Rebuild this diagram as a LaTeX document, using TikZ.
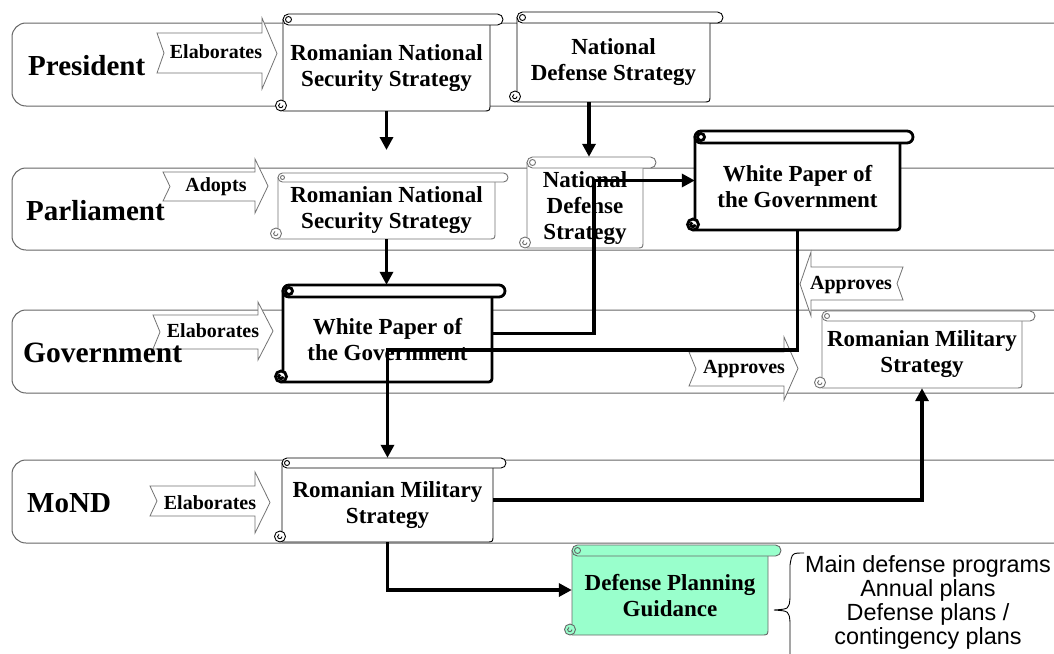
\documentclass[tikz,border=0pt]{standalone}
\usepackage{fontspec}
\setmainfont{Liberation Serif}
\newfontfamily\arialfont{Liberation Sans}
\usetikzlibrary{arrows.meta,fit}
\definecolor{mint}{HTML}{99FFCC}
% scroll: #1 name, #2 style, #3 L, #4 T, #5 R, #6 B, #7 roll height, #8 text
\newcommand{\scrl}[8]{%
  \path[#2] (#3,#4+#7/2) -- (#3,#6) -- (#5-7,#6) .. controls (#5,#6) .. (#5,#6-7) -- (#5,#4+#7/2) -- cycle;
  \path[#2, rounded corners=#7/2*1pt] (#3,#4) rectangle (#5+13,#4+#7);
  \path[#2, fill=none] (#3+#7/2,#4+#7/2) circle ({#7/2-2.5});
  \path[#2] (#3-2,#6-5.5) circle (5.5);
  \path[#2, fill=none] (#3,#6-5.5) arc[start angle=0, end angle=250, radius=2.2];
  \node[sbox, fit={(#3,#4) (#5,#6)}] (#1) {};
  \node[stext] (#1-t) at ({(#3+#5)/2},{(#4+#7+#6)/2}) {#8};
}
% right-pointing chevron: x0, xh, xtip, shaft top, shaft bottom, head top, head bottom
\newcommand{\chevR}[7]{%
  \path[chev] (#1,#4) -- (#2,#4) -- (#2,#6) -- (#3,{(#6+#7)/2}) -- (#2,#7) -- (#2,#5) -- (#1,#5) -- (#1+7,{(#4+#5)/2}) -- cycle;}
% left-pointing chevron: xright, xh, xtip, ...
\newcommand{\chevL}[7]{%
  \path[chev] (#1,#4) -- (#2,#4) -- (#2,#6) -- (#3,{(#6+#7)/2}) -- (#2,#7) -- (#2,#5) -- (#1,#5) -- (#1-6,{(#4+#5)/2}) -- cycle;}
\begin{document}
\begin{tikzpicture}[x=1pt,y=-1pt,
  lane/.style={draw=black!60, line width=1pt},
  chev/.style={draw=black!55, fill=white, line width=0.8pt},
  chevtext/.style={font=\fontsize{20}{22}\selectfont\bfseries, inner sep=0pt},
  lanetext/.style={font=\fontsize{29}{32}\selectfont\bfseries, anchor=west, inner sep=0pt},
  stext/.style={font=\fontsize{23}{26}\selectfont\bfseries, align=center, inner sep=0pt},
  sbox/.style={inner sep=0pt, draw=none},
  thinscroll/.style={draw=black, fill=white, line width=0.9pt},
  grayscroll/.style={draw=black!55, fill=white, line width=0.9pt},
  thickscroll/.style={draw=black, fill=white, line width=2.8pt},
  greenscroll/.style={draw=black!60, fill=mint, line width=0.9pt},
  conn/.style={line width=3.3pt, -{Triangle[length=13pt,width=13pt]}},
]
\useasboundingbox (0,0) rectangle (1054,653);
\fill[white] (0,0) rectangle (1054,653);
\clip (0,0) rectangle (1054,653);

% lanes
\draw[lane, rounded corners=14pt] (1070,23) -- (12,23) -- (12,106) -- (1070,106);
\draw[lane, rounded corners=14pt] (1070,168) -- (12,168) -- (12,250) -- (1070,250);
\draw[lane, rounded corners=14pt] (1070,310) -- (12,310) -- (12,393) -- (1070,393);
\draw[lane, rounded corners=14pt] (1070,460) -- (12,460) -- (12,543) -- (1070,543);

% chevrons
\chevR{157}{262}{277}{33}{73}{18}{89}
\chevR{163}{255}{268}{172}{201}{159}{213}
\chevR{153}{258}{273}{315}{349}{302}{360}
\chevR{150}{255}{270}{486}{516}{472}{533}
\chevL{903}{811}{800}{267}{300}{252}{316}
\chevR{689}{784}{798}{352}{386}{337}{400}

\node[chevtext] (tE1) at (216,52) {Elaborates};
\node[chevtext] (tA1) at (216,187) {Adopts};
\node[chevtext] (tE2) at (213,331) {Elaborates};
\node[chevtext] (tE3) at (210,503) {Elaborates};
\node[chevtext] (tAp1) at (851,285) {Approves};
\node[chevtext] (tAp2) at (744,369) {Approves};

% lane labels
\node[lanetext] (lPres) at (28,66) {President};
\node[lanetext] (lParl) at (26,211) {Parliament};
\node[lanetext, font=\fontsize{29.5}{32}\selectfont\bfseries] (lGov) at (23,353) {Government};
\node[lanetext] (lMoND) at (27,503) {MoND};

% scrolls
\scrl{prnss}{thinscroll}{283}{14}{490}{111}{11}{Romanian National\\Security Strategy}
\scrl{pnds}{thinscroll}{517}{12}{710}{102}{11}{National\\Defense Strategy}
\scrl{parrnss}{grayscroll}{278}{173}{495}{239}{9}{Romanian National\\Security Strategy}
\scrl{parnds}{grayscroll}{527}{157}{643}{248}{11}{National\\Defense\\Strategy}
\scrl{parwp}{thickscroll}{695}{131}{900}{230}{12}{White Paper of\\the Government}
\scrl{gwp}{thickscroll}{283}{285}{492}{382}{12}{White Paper of\\the Government}
\scrl{grms}{grayscroll}{822}{311}{1022}{388}{10}{Romanian Military\\Strategy}
\scrl{mrms}{thinscroll}{282}{458}{493}{542}{10}{Romanian Military\\Strategy}
\scrl{dpg}{greenscroll}{572}{545}{768}{635}{11}{Defense Planning\\Guidance}

% brace and list
\draw[line width=0.9pt] (804,553) .. controls (792,553) .. (790,565) -- (790,598) .. controls (789,609) .. (774,610) .. controls (789,611) .. (790,622) -- (790,660);
\node[font=\arialfont\fontsize{23.4}{24}\selectfont, align=center, inner sep=0pt] (blist) at (928,602) {Main defense programs\\Annual plans\\Defense plans /\\contingency plans};

% connectors
\coordinate (a1) at (386.5,150);
\coordinate (c2) at (589,0);
\coordinate (c4) at (594,0);
\coordinate (c5) at (0,350);
\draw[conn] (prnss.south) -- (a1);
\draw[conn] (pnds.south -| c2) -- (parnds.north -| c2);
\draw[conn] (parrnss.south) -- (parrnss.south |- gwp.north);
\draw[conn] (gwp.east) -| (c4 |- parwp.west) -- (parwp.west);
\draw[conn] (parwp.south) -- (parwp.south |- c5) -| (mrms.north);
\draw[conn] (mrms.east) -| (grms.south);
\draw[conn] (mrms.south) |- (dpg.west);
\end{tikzpicture}
\end{document}
